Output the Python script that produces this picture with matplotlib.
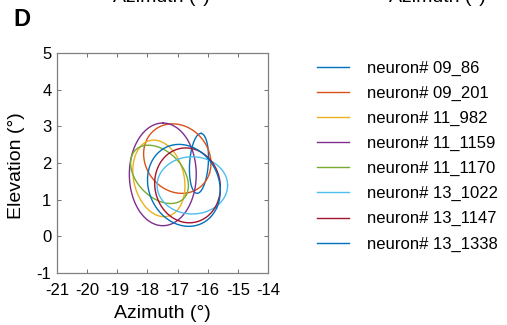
import numpy as np
import matplotlib
matplotlib.use("Agg")
import matplotlib.pyplot as plt

plt.rcParams['font.family'] = ['Liberation Sans', 'DejaVu Sans']

# ---- data (degrees) ----
neurons = ['09_86', '09_201', '11_982', '11_1159', '11_1170', '13_1022', '13_1147', '13_1338']
center_az = [-16.29, -17.01, -17.62, -17.49, -17.60, -16.51, -16.67, -16.79]
center_el = [1.99, 2.12, 1.58, 1.69, 1.69, 1.39, 1.39, 1.39]
semi_major = [0.82, 1.14, 1.08, 1.40, 1.05, 1.17, 1.10, 1.25]
semi_minor = [0.31, 0.92, 0.82, 1.11, 0.67, 0.78, 1.01, 1.07]
tilt_deg = [85, -20, 113, 90, -32, 0, -20, -30]
colors = ['#0072BD', '#D95319', '#EDB120', '#7E2F8E', '#77AC30', '#4DBEEE', '#A2142F', '#0072BD']

x_ticks = [-21, -20, -19, -18, -17, -16, -15, -14]
y_ticks = [-1, 0, 1, 2, 3, 4, 5]

W, H = 507, 325
fig = plt.figure(figsize=(W / 100, H / 100), dpi=100)
ax = fig.add_axes([57 / W, 1 - 273 / H, (268 - 57) / W, (273 - 53) / H])

t = np.linspace(0, 2 * np.pi, 300)
handles = []
for cx, cy, a, b, th, c, name in zip(center_az, center_el, semi_major, semi_minor,
                                     tilt_deg, colors, neurons):
    r = np.deg2rad(th)
    xs = cx + a * np.cos(t) * np.cos(r) - b * np.sin(t) * np.sin(r)
    ys = cy + a * np.cos(t) * np.sin(r) + b * np.sin(t) * np.cos(r)
    ln, = ax.plot(xs, ys, color=c, lw=1.0, label='neuron# ' + name)
    handles.append(ln)

ax.set_xlim(x_ticks[0], x_ticks[-1])
ax.set_ylim(y_ticks[0], y_ticks[-1])
ax.set_xticks(x_ticks)
ax.set_yticks(y_ticks)
ax.set_xticklabels([str(v) for v in x_ticks])
ax.set_yticklabels([str(v) for v in y_ticks])
ax.tick_params(direction='in', top=True, right=True, length=3, width=0.7,
               color='#707070', labelsize=12)
ax.tick_params(axis='x', pad=7.5)
ax.tick_params(axis='y', pad=4)
for s in ax.spines.values():
    s.set_color('#808080')
    s.set_linewidth(0.9)

ax.set_xlabel('Azimuth (°)', fontsize=14)
ax.xaxis.set_label_coords(0.5, (273 - 305.5) / 220)
ax.set_ylabel('Elevation (°)', fontsize=14)
ax.yaxis.set_label_coords((25 - 57) / 211, 0.49)

fig.text(13 / W, 1 - 19 / H, 'D', fontsize=17, fontweight='bold', va='center', ha='left')

# remnants of the panel above (cut off at the top edge, as in the source)
fig.text(161 / W, 1 - 1.5 / H, 'Azimuth (°)', fontsize=14, ha='center', va='baseline')
fig.text(437 / W, 1 - 1.5 / H, 'Azimuth (°)', fontsize=14, ha='center', va='baseline')

fig.legend(handles=handles, loc='upper left', bbox_to_anchor=(317 / W, 1 - 60.5 / H),
           frameon=False, fontsize=12, handlelength=1.9, handletextpad=1.1,
           labelspacing=0.6, borderpad=0, borderaxespad=0)

fig.savefig('out.png', dpi=100)
